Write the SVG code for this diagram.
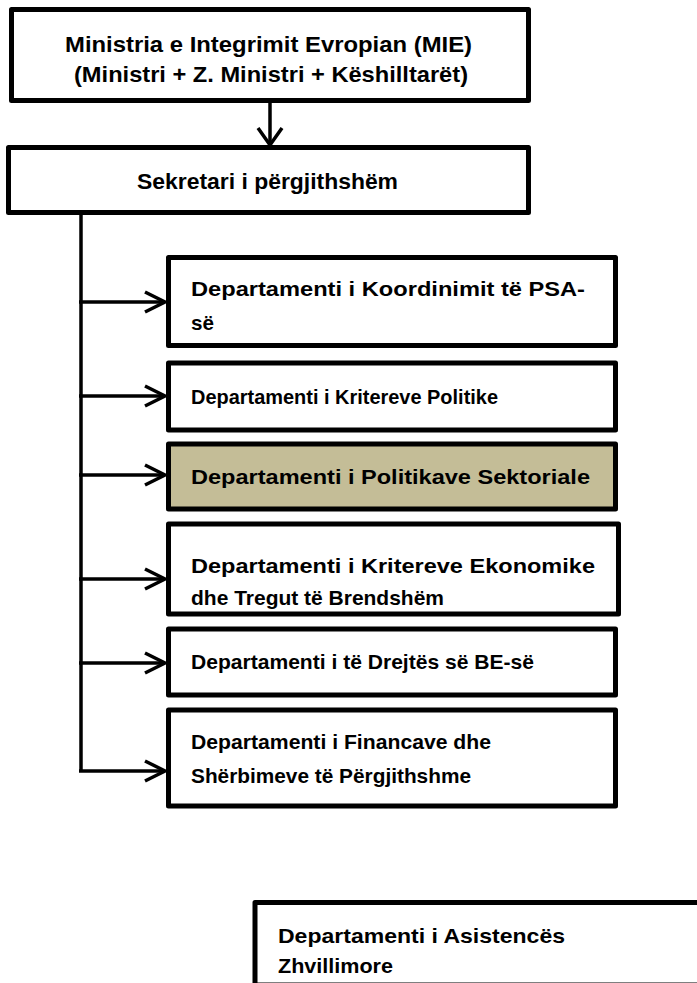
<svg xmlns="http://www.w3.org/2000/svg" width="697" height="983" viewBox="0 0 697 983">
<style>
.box{fill:#fff;stroke:#000;stroke-width:5;stroke-linejoin:round}
.tan{fill:#C4BD97}
.t{font-family:"Liberation Sans",Arial,sans-serif;font-weight:bold;fill:#000}
.big{font-size:22.5px}
.med{font-size:20.5px}
.conn{fill:none;stroke:#000;stroke-width:3.5;stroke-linecap:butt;stroke-linejoin:miter}
</style>
<rect width="697" height="983" fill="#fff"/>
<g id="connectors" class="conn">
<line x1="270" y1="101" x2="270" y2="145"/>
<polyline points="258,128 270,145 282,128"/>
<line x1="81" y1="212" x2="81" y2="772"/>
<line x1="79" y1="302" x2="165" y2="302"/><polyline points="145,292 165,302 145,312"/>
<line x1="79" y1="396" x2="165" y2="396"/><polyline points="145,386 165,396 145,406"/>
<line x1="79" y1="475" x2="165" y2="475"/><polyline points="145,465 165,475 145,485"/>
<line x1="79" y1="579" x2="165" y2="579"/><polyline points="145,569 165,579 145,589"/>
<line x1="79" y1="663" x2="165" y2="663"/><polyline points="145,653 165,663 145,673"/>
<line x1="79" y1="771" x2="165" y2="771"/><polyline points="145,761 165,771 145,781"/>
</g>
<g id="mie">
<rect class="box" x="11.5" y="9.5" width="517" height="91"/>
<text class="t big" x="65" y="52" textLength="407" lengthAdjust="spacingAndGlyphs">Ministria e Integrimit Evropian (MIE)</text>
<text class="t big" x="74" y="82" textLength="394" lengthAdjust="spacingAndGlyphs">(Ministri + Z. Ministri + Këshilltarët)</text>
</g>
<g id="sekretari">
<rect class="box" x="8.5" y="147.5" width="520" height="65"/>
<text class="t big" x="137" y="189" textLength="261" lengthAdjust="spacingAndGlyphs">Sekretari i përgjithshëm</text>
</g>
<g id="psa">
<rect class="box" x="168.5" y="257.5" width="447" height="88"/>
<text class="t med" x="191" y="296" textLength="394" lengthAdjust="spacingAndGlyphs">Departamenti i Koordinimit të PSA-</text>
<text class="t med" x="191" y="330" textLength="23" lengthAdjust="spacingAndGlyphs">së</text>
</g>
<g id="politike">
<rect class="box" x="168.5" y="363" width="447" height="67"/>
<text class="t med" x="191" y="404" textLength="307" lengthAdjust="spacingAndGlyphs">Departamenti i Kritereve Politike</text>
</g>
<g id="sektoriale">
<rect class="box tan" x="168.5" y="444" width="447" height="65"/>
<text class="t med" x="191" y="484" textLength="399" lengthAdjust="spacingAndGlyphs">Departamenti i Politikave Sektoriale</text>
</g>
<g id="ekonomike">
<rect class="box" x="168.5" y="524" width="450" height="90"/>
<text class="t med" x="191" y="573" textLength="404" lengthAdjust="spacingAndGlyphs">Departamenti i Kritereve Ekonomike</text>
<text class="t med" x="191" y="605" textLength="253" lengthAdjust="spacingAndGlyphs">dhe Tregut të Brendshëm</text>
</g>
<g id="drejtes">
<rect class="box" x="168.5" y="629" width="447" height="66"/>
<text class="t med" x="191" y="669" textLength="343" lengthAdjust="spacingAndGlyphs">Departamenti i të Drejtës së BE-së</text>
</g>
<g id="financave">
<rect class="box" x="168.5" y="710" width="447" height="96"/>
<text class="t med" x="191" y="749" textLength="300" lengthAdjust="spacingAndGlyphs">Departamenti i Financave dhe</text>
<text class="t med" x="191" y="783" textLength="280" lengthAdjust="spacingAndGlyphs">Shërbimeve të Përgjithshme</text>
</g>
<g id="asistences">
<rect class="box" x="255" y="902.5" width="470" height="82.5"/>
<text class="t med" x="278" y="943" textLength="287" lengthAdjust="spacingAndGlyphs">Departamenti i Asistencës</text>
<text class="t med" x="278" y="973" textLength="115" lengthAdjust="spacingAndGlyphs">Zhvillimore</text>
</g>
</svg>
